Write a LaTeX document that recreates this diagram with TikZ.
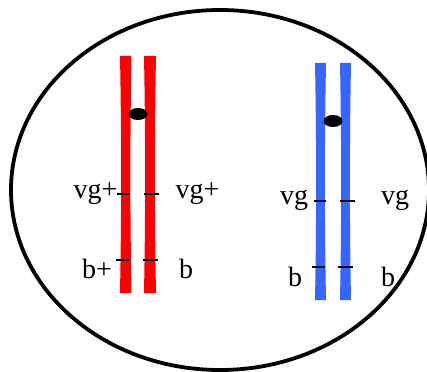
\documentclass[tikz,border=0pt]{standalone}
\usepackage{fontspec}
\setmainfont{Liberation Serif}
\usetikzlibrary{positioning,shapes.geometric}
\definecolor{chrred}{RGB}{255,0,0}
\definecolor{chrblue}{RGB}{54,101,255}
% one chromatid: left x, right x, top y, bottom y, colour
\newcommand{\chromatid}[5]{%
  \fill[#5] (#1,#3) -- (#2,#3) .. controls ({#2-1.5},{#3+80}) and ({#2-1.5},{#4-80}) .. (#2,#4)
    -- (#1,#4) .. controls ({#1+1.5},{#4-80}) and ({#1+1.5},{#3+80}) .. (#1,#3) -- cycle;}
\begin{document}
\begin{tikzpicture}[x=1pt,y=-1pt,centro/.style={ellipse,fill=black,minimum width=19pt,minimum height=12pt,inner sep=0pt},locus/.style={line width=1.6pt},gene/.style={anchor=base,inner sep=0pt,font=\fontsize{28}{30}\selectfont}]
\useasboundingbox (0,0) rectangle (427,371);
\node[draw,ellipse,line width=3.8pt,minimum width=418pt,minimum height=360pt,inner sep=0pt] (cell) at (220,190) {};
% red pair
\chromatid{120}{131.5}{56}{293}{chrred}
\chromatid{144}{156}{56}{293}{chrred}
\node[centro] (redcen) at (138,114) {};
\draw[locus] (117,194) -- (130,194);
\draw[locus] (144,194) -- (159,194);
\draw[locus] (116,260) -- (129,260);
\draw[locus] (143,260) -- (158,260);
% blue pair
\chromatid{315}{326}{63}{300}{chrblue}
\chromatid{340}{351}{63}{300}{chrblue}
\node[centro] (bluecen) at (333,121) {};
\draw[locus] (314,201) -- (326,201);
\draw[locus] (340,201) -- (355,201);
\draw[locus] (312,267) -- (325,267);
\draw[locus] (338,267) -- (353,267);
\begin{scope}[every node/.style={gene}]
\node (rvgl) at (95.5,198) {vg+};
\node (rvgr) at (197.5,198) {vg+};
\node (rbl) at (97,278) {b+};
\node (rbr) at (186,278) {b};
\node (bvgl) at (294,204) {vg};
\node (bvgr) at (395,204) {vg};
\node (bbl) at (295,286) {b};
\node (bbr) at (388,286) {b};
\end{scope}
\end{tikzpicture}
\end{document}
